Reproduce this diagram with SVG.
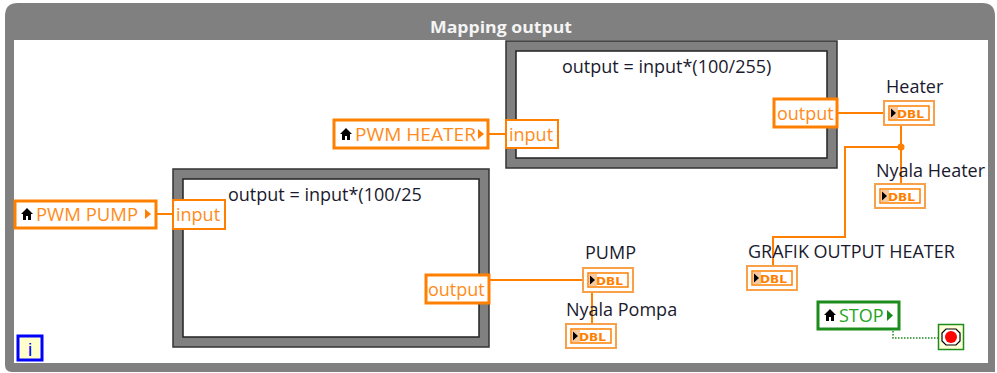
<svg xmlns="http://www.w3.org/2000/svg" width="997" height="373" viewBox="0 0 997 373">
<defs>
<style>
.t{font-family:"Open Sans","Noto Sans","Liberation Sans",sans-serif;font-size:18px}
.lbl{fill:#1a1a2e}
.or{fill:#FF8C1A}
.wire{stroke:#FF8000;stroke-width:2;fill:none}
.fnOuter{fill:#808080;stroke:#333;stroke-width:1.5}
.fnInner{fill:#fff;stroke:#222;stroke-width:1.5}
.tunIn{fill:#fff;stroke:#FF8000;stroke-width:2}
.tunOut{fill:#fff;stroke:#FF8000;stroke-width:3}
.ctl{fill:#fff;stroke:#FF8000;stroke-width:3}
.dblO{fill:#fff;stroke:#F9A14A;stroke-width:2}
.dblI{fill:#fff;stroke:#FF8000;stroke-width:1.5}
.dbl{font-family:"DejaVu Sans","Liberation Sans",sans-serif;font-size:11px;font-weight:bold;fill:#FF8000}
</style>
<g id="house"><path d="M0,6 L6,0 L12,6 L10,6 L10,12 L7,12 L7,8 L5,8 L5,12 L2,12 L2,6 Z" fill="#000"/></g>
<g id="dblInd">
<rect class="dblO" x="0" y="0" width="50" height="24"/>
<rect class="dblI" x="5" y="5" width="40" height="14"/>
<rect x="6" y="6" width="8" height="12" fill="#F7C9A0"/>
<path d="M7,7.5 L12,12 L7,16.5 Z" fill="#000"/>
<text class="dbl" x="13" y="16.5" textLength="27" lengthAdjust="spacingAndGlyphs">DBL</text>
</g>
</defs>

<g id="structure">
<path d="M5,16 Q5,3 18,3 L982,3 Q995,3 995,16 L995,372 L12,372 Q5,372 5,365 Z" fill="#808080"/>
<rect x="14" y="40" width="974" height="323" fill="#fff"/>
<text x="501" y="33" text-anchor="middle" font-family="'Open Sans','Noto Sans','Liberation Sans',sans-serif" font-size="16" font-weight="bold" fill="#f4f4f4" textLength="142" lengthAdjust="spacingAndGlyphs">Mapping output</text>
</g>

<g id="connectors">
<path class="wire" d="M488,134 L506,134"/>
<path class="wire" d="M156,214 L173,214"/>
<path class="wire" d="M489,280 L583,280"/>
<path class="wire" d="M592,292 L592,323"/>
<path class="wire" d="M837,113 L884,113"/>
<path class="wire" d="M901,124 L901,184"/>
<path class="wire" d="M901,147 L845,147 L845,237 L773,237 L773,266"/>
<circle cx="901" cy="147" r="3.5" fill="#FF8000"/>
<path d="M893,331 L893,338 L938,338" fill="none" stroke="#1C8C1C" stroke-width="1.5" stroke-dasharray="1.5,1.5"/>
</g>

<g id="formula-heater">
<rect class="fnOuter" x="506" y="41" width="331" height="127"/>
<rect class="fnInner" x="516" y="51" width="311" height="107"/>
<text class="t lbl" x="562" y="73">output = input*(100/255)</text>
<rect class="tunIn" x="506" y="120" width="52" height="28"/>
<text class="t or" x="509" y="141">input</text>
<rect class="tunOut" x="774" y="99" width="63" height="28"/>
<text class="t or" x="777" y="120">output</text>
</g>

<g id="formula-pump">
<rect class="fnOuter" x="173" y="169" width="316" height="178"/>
<rect class="fnInner" x="183" y="179" width="296" height="158"/>
<text class="t lbl" x="228" y="201">output = input*(100/25</text>
<rect class="tunIn" x="173" y="200" width="52" height="29"/>
<text class="t or" x="176" y="221">input</text>
<rect class="tunOut" x="426" y="275" width="63" height="28"/>
<text class="t or" x="428" y="296">output</text>
</g>

<g id="ctl-pwm-heater">
<rect class="ctl" x="334" y="120" width="154" height="28"/>
<use href="#house" x="340" y="128"/>
<text class="t or" x="355" y="141" textLength="121" lengthAdjust="spacingAndGlyphs">PWM HEATER</text>
<path d="M478,129 L484,134 L478,139 Z" fill="#FF8000"/>
</g>

<g id="ctl-pwm-pump">
<rect class="ctl" x="15" y="201" width="141" height="27"/>
<use href="#house" x="21" y="208"/>
<text class="t or" x="36" y="221" textLength="102" lengthAdjust="spacingAndGlyphs">PWM PUMP</text>
<path d="M145,209 L151,214 L145,219 Z" fill="#FF8000"/>
</g>

<g id="ind-pump">
<text class="t lbl" x="585" y="259">PUMP</text>
<use href="#dblInd" x="583" y="268"/>
</g>

<g id="ind-nyala-pompa">
<text class="t lbl" x="566" y="316">Nyala Pompa</text>
<use href="#dblInd" x="566" y="324"/>
</g>

<g id="ind-heater">
<text class="t lbl" x="886" y="93">Heater</text>
<use href="#dblInd" x="884" y="101"/>
</g>

<g id="ind-nyala-heater">
<text class="t lbl" x="876" y="177">Nyala Heater</text>
<use href="#dblInd" x="875" y="184"/>
</g>

<g id="ind-grafik">
<text class="t lbl" x="748" y="258">GRAFIK OUTPUT HEATER</text>
<use href="#dblInd" x="747" y="266"/>
</g>

<g id="ctl-stop">
<rect x="818" y="302" width="81" height="27" fill="#fff" stroke="#1C8C1C" stroke-width="3"/>
<use href="#house" x="824" y="309"/>
<text class="t" x="839" y="322" fill="#23A523">STOP</text>
<path d="M887,310 L893,315.5 L887,321 Z" fill="#1C8C1C"/>
</g>

<g id="stop-terminal">
<rect x="938.5" y="324.5" width="25" height="25" fill="#FFFFD8" stroke="#1C8C1C" stroke-width="1.5"/>
<path d="M946,329 L956,329 L960,333 L960,341 L956,345 L946,345 L942,341 L942,333 Z" fill="#fff" stroke="#000" stroke-width="1.2"/>
<circle cx="951" cy="337" r="6" fill="#F00"/>
</g>

<g id="info-icon">
<rect x="18" y="336" width="24" height="24" fill="#FFFFCC" stroke="#0000FF" stroke-width="3"/>
<text x="30" y="356" text-anchor="middle" font-family="'Liberation Sans','DejaVu Sans',sans-serif" font-size="19" fill="#0000FF">i</text>
</g>
</svg>
